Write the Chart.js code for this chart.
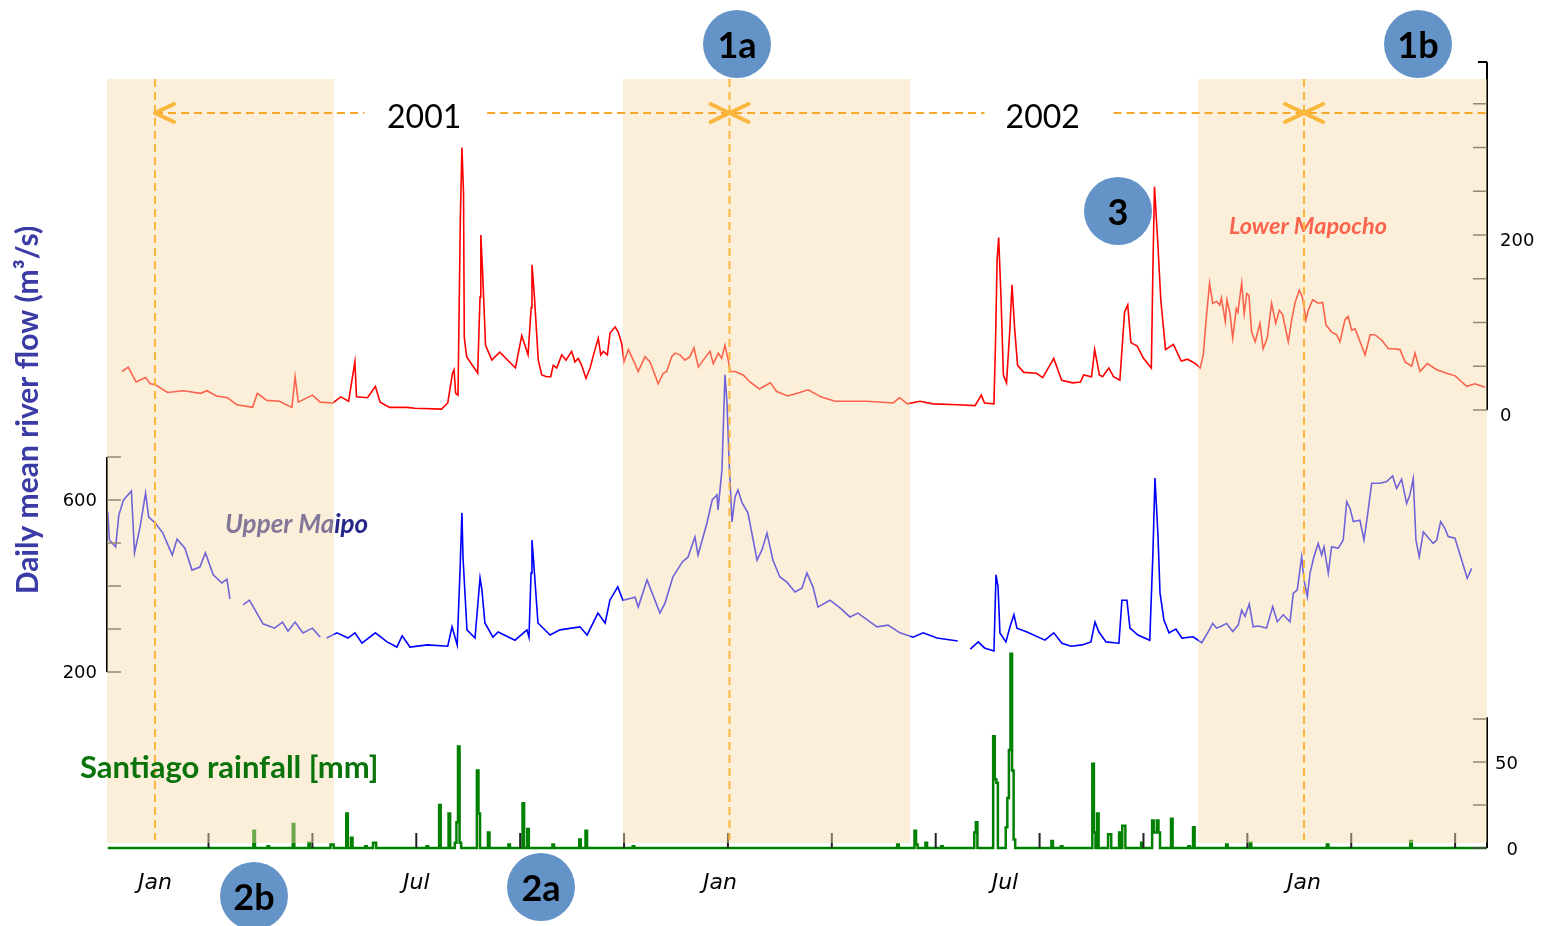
<!DOCTYPE html>
<html>
<head>
<meta charset="utf-8">
<script src="https://cdn.jsdelivr.net/npm/chart.js@4.4.1/dist/chart.umd.min.js"></script>
<style>
  html, body { margin: 0; background: #fff; }
  #wrap { width: 1541px; height: 926px; }
</style>
</head>
<body>
<div id="wrap"><canvas id="flow-chart" width="1541" height="926"></canvas></div>
<script>
// Days counted from 1 Jan 2001

// Lower Mapocho daily mean flow (m3/s)
const mapochoDays = [
  -21, -17, -12, -6, -3, 0, 8, 18, 29, 33, 39, 46, 52, 62, 65, 71, 79, 87, 89, 91,
  100, 105, 113, 118, 123, 127, 128, 135, 140, 143, 149, 160, 165, 182, 186, 189, 190, 191, 192.5, 194,
  195, 196, 196.5, 198, 205, 206.5, 207, 208, 210, 214, 219, 229, 233, 237, 239, 239.5, 241,
  243.5, 245.7, 248.8, 251.4, 253, 255.2, 258.4, 261.1, 264.7, 266.8,
  268.9, 271.1, 273.8, 276.4, 278.9, 281.6, 283.2, 284.8, 287.4, 289.1,
  292.3, 294.3, 296.5, 298, 300.7, 303.9, 307, 311.3, 314.5, 319.7,
  322.9, 325.1, 328.3, 330.4, 333.5, 336.7, 339.9, 342.4, 345.2, 348.3,
  352.6, 354.7, 357.9, 360, 362.1, 364.2, 365.3, 368.5, 373.7, 378,
  384, 391, 395, 402, 408, 415, 423, 432, 452, 469, 473, 478,
  486, 494, 510, 521, 525, 527, 533, 534, 535, 536, 537.5, 539, 541, 543, 544.5, 546, 548, 552, 560, 564,
  571, 576, 583, 588, 590, 595, 597, 600, 602, 606, 609, 613, 616, 618, 620, 624, 628, 633, 634, 635,
  637, 639, 642, 647, 652, 656,
  661, 664, 666, 668, 670, 672, 674.5, 676.5, 677.5, 680,
  681, 683, 684.7, 687, 688, 690.4, 692, 693.6, 695, 696.7,
  699, 702, 704, 706.6, 709.4, 712, 714.3, 716.4, 720, 722,
  724.2, 727, 729, 731.2, 732.7, 735.5, 739, 741.8, 744, 747.6,
  750.7, 752.8, 756, 758, 760.3, 762.4, 765.6, 768.8, 772, 775,
  779.3, 783.6, 786.7, 791, 794.2, 798.4, 800.5, 803.7, 808.3, 814.3,
  820.6, 826, 833.3, 838.6, 845
];
const mapochoFlow = [
  44, 49, 32, 37, 30, 29, 20, 22, 19, 22, 16, 14, 6, 3, 19, 11, 10, 3, 38, 9,
  17, 9, 8, 15, 10, 55, 15, 14, 27, 9, 3, 3, 2, 1, 8, 42, 46, 19, 17, 220,
  300, 249, 83, 61, 42, 129, 200, 163, 74, 57, 66, 48, 85, 63, 117, 166, 131,
  57, 40, 38, 38, 51, 48, 63, 57, 67, 55,
  59, 51, 36, 48, 65, 82, 63, 67, 63, 88,
  95, 89, 76, 55, 69, 57, 44, 61, 55, 30,
  42, 44, 61, 65, 63, 57, 61, 71, 49, 57,
  67, 53, 65, 59, 74, 57, 44, 44, 40, 32,
  24, 31, 21, 16, 19, 23, 15, 10, 10, 8, 14, 7,
  10, 7, 6, 5, 17, 8, 7, 77, 171, 197, 128, 40, 31, 89, 143, 97, 51, 43, 42, 37,
  59, 34, 31, 32, 40, 38, 69, 40, 38, 48, 38, 34, 112, 120, 77, 73, 59, 48, 163, 255,
  194, 126, 69, 75, 56, 58,
  53, 48, 63, 107, 145, 122, 124, 120, 128, 101,
  126, 110, 82, 116, 112, 145, 110, 133, 131, 89,
  78, 99, 70, 82, 122, 99, 114, 109, 78, 101,
  122, 137, 129, 103, 114, 126, 122, 123, 97, 89,
  86, 78, 103, 107, 91, 93, 78, 63, 86, 86,
  80, 70, 70, 69, 55, 50, 65, 44, 53, 46,
  42, 39, 27, 30, 26
];

// Upper Maipo daily mean flow (m3/s), null = missing days
const maipoDays = [
  -30, -29, -25, -23, -20, -15, -13, -9.5, -6, -4, 0, 5, 11, 14, 19, 23.5, 28.5, 32, 37, 42.5,
  45.7, 47.6, 51, 56, 60, 68.6, 76, 81, 84.5, 89, 94, 100, 105, 107, 109, 115.6, 122.6, 127, 131.5, 140,
  147.4, 153.7, 157, 162, 173, 186, 188.7, 192, 193.8, 195, 195.7, 198.2, 203.3, 206.5, 207.7, 209.6, 214.7, 218, 228.7, 236.3,
  237.6, 238.9, 239.5, 240.8, 243.3, 251, 257.3, 270, 274.5, 281.4, 286, 289, 294, 297.3, 305, 307, 312.6, 320.8, 324, 329,
  335, 338.6, 343, 345, 350.7, 354, 357, 357.7, 360.2, 362.1, 363.4, 364.7, 366.6, 368.5, 370.4, 373, 376.7, 382.5, 385.6, 388.8,
  392.6, 397, 401.5, 406.6, 411, 414.2, 418, 421.2, 428.8, 435.2, 441.5, 446.6, 458.7, 465.7, 473.3, 481.6, 488, 496.8, 510, 514,
  518, 523, 527, 533, 534.3, 535.6, 536.8, 540.6, 543.2, 545.7, 547.6, 554, 565.4, 571, 576.2, 582, 589, 594.6, 597.2, 599.7,
  604.2, 612.4, 614.3, 617.5, 619.4, 624.5, 632, 634, 635.3, 637.2, 638.5, 641, 644.2, 648.6, 652.4,
  659.6, 665, 669.2, 672, 674.5, 677.7, 680.8, 684.7, 688.2, 690.4,
  692.5, 695.2, 697.7, 700.9, 706.2, 710.1, 713, 716.8, 721.1, 723.2,
  725.7, 728.5, 730, 732.1, 733.8, 736.3, 739, 741.2, 742.7, 745.4,
  747.5, 751.8, 754.9, 757.1, 759.2, 761.3, 765.5, 768.1, 770.2, 773,
  778.3, 782.5, 786.3, 788.8, 792, 795.2, 797.3, 799.4, 801.1, 803.2,
  805.8, 808.3, 812.1, 814.3, 816.8, 819.5, 821.6, 825.9, 830.2, 833.7,
  836.5
];
const maipoFlow = [
  573, 507, 491, 565, 600, 621, 477, 537, 616, 560, 547, 523, 472, 509, 488, 437, 444, 477, 426, 407,
  416, 370, null, 356, 367, 312, 302, 316, 295, 316, 291, 302, 281, null, 279, 291, 279, 291, 267, 291,
  270, 258, 284, 258, 263, 260, 305, 263, 437, 570, 465, 298, 279, 419, 391, 314, 281, 293, 274, 298,
  281, 430, 507, 444, 314, 286, 298, 305, 286, 337, 314, 367, 398, 367, 374, 351, 414, 337, 360, 421,
  456, 467, 514, 472, 547, 600, 612, 577, 670, 891, 826, 693, 549, 607, 623, 593, 570, 460, 484, 523,
  460, 421, 409, 386, 395, 430, 398, 351, 367, 349, 328, 337, 305, 309, 291, 281, 291, 279, 272, null,
  253, 270, 256, 249, 426, 398, 291, 270, 305, 333, 302, 293, 274, 291, 267, 260, 263, 270, 316, 293,
  270, 267, 367, 367, 302, 286, 274, 477, 651, 519, 384, 321, 291, 300, 279,
  282, 268, 294, 313, 302, 307, 313, 294, 309, 344,
  329, 358, 305, 307, 302, 352, 317, 333, 317, 383,
  391, 468, 414, 375, 430, 468, 499, 472, 491, 430,
  491, 488, 507, 596, 581, 550, 553, 507, 561, 639,
  639, 643, 656, 627, 648, 592, 612, 650, 507, 468,
  526, 515, 499, 507, 550, 534, 515, 511, 460, 418,
  441
];

// Santiago daily rainfall (mm), only the days with rain
const rainDays = [
  63, 72, 88, 98, 112, 113, 122, 125, 134, 139, 140, 173, 181, 187, 191, 192, 193, 194, 205, 206,
  212, 225, 234, 237, 253, 270, 274, 304, 472, 483, 484, 490, 500, 521, 522, 533, 534, 535, 541, 542,
  543, 544, 545, 546, 570, 576, 596, 597, 599, 606, 607, 613, 615, 616, 627, 634, 635, 636, 637, 638,
  646, 657, 660, 681, 696, 745, 798
];
const rainMM = [
  10, 1, 14, 3, 2, 2, 20, 6, 1, 3, 3, 1, 25, 20, 3, 15, 59, 3, 45, 20,
  9, 2, 26, 11, 2, 5, 10, 1, 2, 10, 2, 3, 1, 9, 15, 65, 40, 38, 12, 29,
  57, 113, 45, 5, 4, 1, 49, 9, 20, 8, 8, 9, 13, 13, 3, 16, 9, 9, 16, 9,
  17, 1, 12, 2, 3, 2, 4
];

// axis ticks and labels
const xTickDays = [34, 100, 166, 232, 298, 364, 430, 496, 562, 628, 694, 760, 826];
const monthDays = [0, 166, 359, 540, 730];
const monthLabels = ["Jan", "Jul", "Jan", "Jul", "Jan"];
const mapochoTicks = [0, 50, 100, 150, 200, 250, 300, 350];
const mapochoLabels = [0, 200];
const maipoTicks = [200, 300, 400, 500, 600, 700];
const maipoLabels = [200, 600];
const rainTicks = [0, 25, 50, 75];
const rainLabels = [0, 50];

// summer periods (shaded), year starts and year labels
const summerStart = [-30.5, 297.3, 662.6];
const summerEnd = [113.7, 479.7, 846.25];
const yearStartDays = [0, 365, 730];
const yearLabels = ["2001", "2002"];
const yearLabelDays = [171, 564];
const yearGapStart = [133, 527];
const yearGapEnd = [211, 609];

// numbered markers
const markerLabels = ["1a", "1b", "3", "2b", "2a"];
const markerPos = [[737, 44], [1418, 44], [1118, 211], [254, 896], [541, 887]];

// build daily rainfall series from the rainy days
const rainSeries = [];
for (let d = -30; d <= 846; d++) {
  const k = rainDays.indexOf(d);
  rainSeries.push({ x: d, y: k >= 0 ? rainMM[k] : 0 });
}

function drawAxis(ctx, xPos, scale, from, to, ticks, labels, dir, labelX, align, dy) {
  ctx.strokeStyle = "#000";
  ctx.lineWidth = 2;
  ctx.beginPath();
  ctx.moveTo(xPos, scale.getPixelForValue(from));
  ctx.lineTo(xPos, scale.getPixelForValue(to));
  ctx.stroke();
  ctx.strokeStyle = "#444";
  ctx.lineWidth = 1.5;
  ctx.beginPath();
  ticks.forEach(v => {
    const y = scale.getPixelForValue(v);
    ctx.moveTo(xPos, y);
    ctx.lineTo(xPos + dir * 14, y);
  });
  ctx.stroke();
  ctx.fillStyle = "#000";
  ctx.font = "18px 'DejaVu Sans'";
  ctx.textAlign = align;
  ctx.textBaseline = "middle";
  labels.forEach(v => ctx.fillText(String(v), labelX, scale.getPixelForValue(v) + dy));
}

function arrowHead(ctx, x, y, dir) {
  ctx.beginPath();
  ctx.moveTo(x + dir * 19, y - 9);
  ctx.lineTo(x, y);
  ctx.lineTo(x + dir * 19, y + 9);
  ctx.stroke();
}

const overlay = {
  id: "overlay",
  afterDatasetsDraw(chart) {
    const { ctx, chartArea: area, scales } = chart;
    const xs = scales.x;
    ctx.save();

    // axes
    drawAxis(ctx, area.right, scales.yMapocho, 0, scales.yMapocho.max, mapochoTicks, mapochoLabels, -1, area.right + 13, "left", 6);
    ctx.beginPath();
    ctx.lineWidth = 2;
    ctx.strokeStyle = "#000";
    ctx.moveTo(area.right - 9, area.top);
    ctx.lineTo(area.right, area.top);
    ctx.stroke();
    drawAxis(ctx, area.left, scales.yMaipo, 200, 700, maipoTicks, maipoLabels, 1, area.left - 10, "right", 1);
    drawAxis(ctx, area.right, scales.yRain, 0, 76, rainTicks, rainLabels, -1, area.right + 31, "right", 2);

    // small x ticks pointing up
    ctx.strokeStyle = "#222";
    ctx.lineWidth = 2;
    ctx.beginPath();
    xTickDays.forEach(d => {
      const x = xs.getPixelForValue(d);
      ctx.moveTo(x, area.bottom);
      ctx.lineTo(x, area.bottom - 15);
    });
    ctx.stroke();

    // series labels (under the shading)
    ctx.textAlign = "left";
    ctx.textBaseline = "middle";
    ctx.font = "italic bold 26px Lato";
    ctx.fillStyle = "#26268a";
    ctx.fillText("Upper Maipo", 225, 525);
    ctx.font = "italic bold 23.5px Lato";
    ctx.fillStyle = "#ff0000";
    ctx.textAlign = "center";
    ctx.fillText("Lower Mapocho", 1308, 226);

    // summer shading
    ctx.fillStyle = "rgba(246,219,170,0.45)";
    summerStart.forEach((s, i) => {
      const x0 = xs.getPixelForValue(s);
      const x1 = xs.getPixelForValue(summerEnd[i]);
      ctx.fillRect(x0, area.top + 17, x1 - x0, area.bottom - 5 - (area.top + 17));
    });

    // year boundaries
    ctx.strokeStyle = "#fbb63e";
    ctx.lineWidth = 2;
    ctx.setLineDash([8, 5]);
    yearStartDays.forEach(d => {
      const x = xs.getPixelForValue(d);
      ctx.beginPath();
      ctx.moveTo(x, area.top + 17);
      ctx.lineTo(x, area.bottom - 8);
      ctx.stroke();
    });

    // year arrows
    const ay = area.top + 51;
    ctx.strokeStyle = "#f6a82a";
    const cuts = [yearStartDays[0]];
    yearGapStart.forEach((g, i) => cuts.push(g, yearGapEnd[i]));
    cuts.push(xs.max);
    for (let i = 0; i < cuts.length; i += 2) {
      ctx.beginPath();
      ctx.moveTo(xs.getPixelForValue(cuts[i]), ay);
      ctx.lineTo(xs.getPixelForValue(cuts[i + 1]), ay);
      ctx.stroke();
    }
    ctx.setLineDash([]);
    ctx.strokeStyle = "#fbb63e";
    ctx.lineWidth = 4;
    ctx.lineCap = "round";
    ctx.lineJoin = "round";
    yearStartDays.forEach((d, i) => {
      const x = xs.getPixelForValue(d);
      arrowHead(ctx, x, ay, 1);
      if (i > 0) arrowHead(ctx, x, ay, -1);
    });
    ctx.fillStyle = "#000";
    ctx.font = "32px Lato";
    ctx.textAlign = "center";
    yearLabels.forEach((t, i) => ctx.fillText(t, xs.getPixelForValue(yearLabelDays[i]), ay + 5));

    // rainfall label and y title
    ctx.textAlign = "left";
    ctx.font = "bold 31px Lato";
    ctx.fillStyle = "#0b730b";
    ctx.fillText("Santiago rainfall [mm]", 80, 768);
    ctx.save();
    ctx.translate(28, 410);
    ctx.rotate(-Math.PI / 2);
    ctx.textAlign = "center";
    ctx.fillStyle = "#3b3ba6";
    ctx.font = "bold 30px Lato";
    ctx.fillText("Daily mean river flow (m³/s)", 0, 0);
    ctx.restore();

    // numbered markers
    markerLabels.forEach((t, i) => {
      const [mx, my] = markerPos[i];
      ctx.beginPath();
      ctx.arc(mx, my, 34, 0, Math.PI * 2);
      ctx.fillStyle = "#6494c7";
      ctx.fill();
      ctx.fillStyle = "#000";
      ctx.font = "bold 36px Lato";
      ctx.textAlign = "center";
      ctx.fillText(t, mx, my + 2);
    });
    ctx.restore();
  }
};

new Chart(document.getElementById("flow-chart"), {
  type: "line",
  data: {
    datasets: [
      {
        label: "Upper Maipo",
        data: maipoDays.map((d, i) => ({ x: d, y: maipoFlow[i] })),
        yAxisID: "yMaipo",
        borderColor: "#0000ff",
        borderWidth: 1.6,
        pointRadius: 0,
        spanGaps: false
      },
      {
        label: "Lower Mapocho",
        data: mapochoDays.map((d, i) => ({ x: d, y: mapochoFlow[i] })),
        yAxisID: "yMapocho",
        borderColor: "#ff0000",
        borderWidth: 1.6,
        pointRadius: 0
      },
      {
        label: "Santiago rainfall",
        data: rainSeries,
        yAxisID: "yRain",
        borderColor: "#008000",
        borderWidth: 2.5,
        pointRadius: 0,
        stepped: "middle",
        clip: false
      }
    ]
  },
  options: {
    responsive: false,
    animation: false,
    layout: { padding: { left: 107, right: 54, top: 62, bottom: 0 } },
    plugins: { legend: { display: false }, tooltip: { enabled: false } },
    scales: {
      x: {
        type: "linear",
        min: -30.5,
        max: 846.25,
        afterFit(scale) { scale.height = 78; },
        afterBuildTicks(scale) { scale.ticks = monthDays.map(v => ({ value: v })); },
        grid: { display: false },
        border: { display: false },
        ticks: {
          autoSkip: false,
          maxRotation: 0,
          padding: 14,
          color: "#000",
          font: { family: "DejaVu Sans", size: 22, style: "italic" },
          callback: v => monthLabels[monthDays.indexOf(v)]
        }
      },
      yMapocho: { type: "linear", display: false, min: -500.6, max: 397.7 },
      yMaipo: { type: "linear", display: false, min: -209.3, max: 1618.6 },
      yRain: { type: "linear", display: false, min: 0, max: 457 }
    }
  },
  plugins: [overlay]
});
</script>
</body>
</html>
